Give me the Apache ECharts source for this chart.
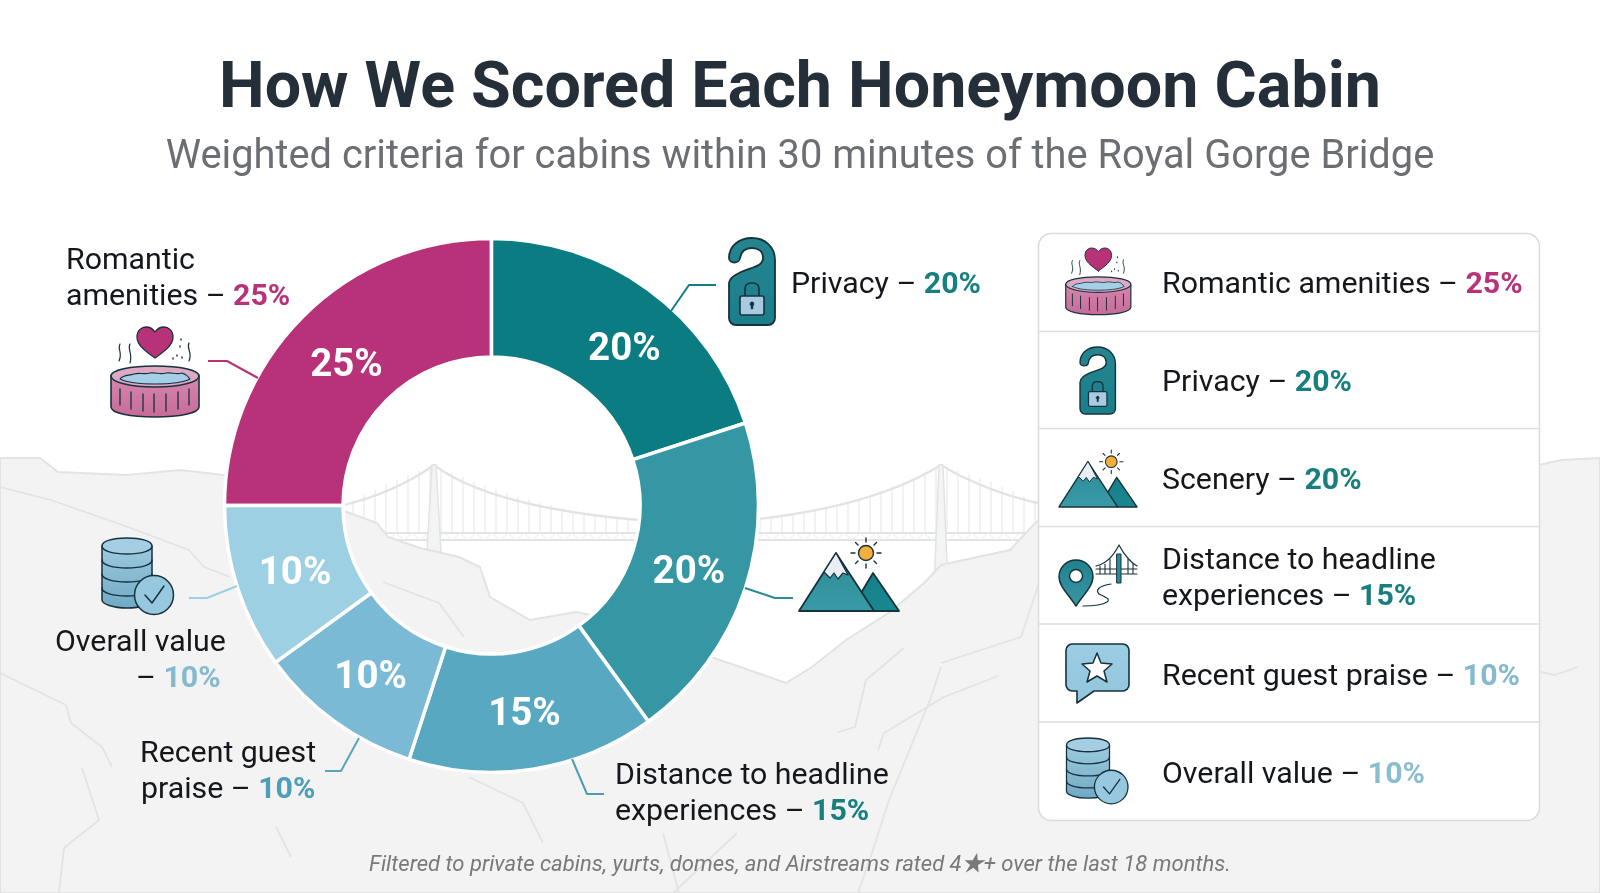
<!DOCTYPE html>
<html>
<head>
<meta charset="utf-8">
<title>How We Scored Each Honeymoon Cabin</title>
<script src="https://cdn.jsdelivr.net/npm/echarts@6/dist/echarts.min.js"></script>
<style>
html, body { margin: 0; padding: 0; background: #fff; }
#result { width: 1600px; height: 893px; }
</style>
</head>
<body>
<div id="result"></div>
<script>
var categories = ['Romantic amenities', 'Privacy', 'Scenery', 'Distance to headline experiences', 'Recent guest praise', 'Overall value'];
var weights = [25, 20, 20, 15, 10, 10];
var titleText = 'How We Scored Each Honeymoon Cabin';
var subtitleText = 'Weighted criteria for cabins within 30 minutes of the Royal Gorge Bridge';
var noteText = 'Filtered to private cabins, yurts, domes, and Airstreams rated 4★+ over the last 18 months.';

var sliceColors = ['#B83279', '#0B7C81', '#3597A3', '#59A8C1', '#7ABAD5', '#9DD0E3'];
var panelPctColors = ['#B83279', '#17807F', '#17807F', '#17807F', '#84B9CF', '#8ABDD2'];
var calloutPctColors = ['#B83279', '#17807F', '#17807F', '#17807F', '#4F9EB9', '#84B9CF'];
// nudges for the in-ring percent labels
var labelNudge = [[4, 10], [9, 15], [-3, 3], [0, 2], [3, 2], [4, 4]];
var INK = '#14181c';
var OUT = '#16323c';
var BG_LINE = '#e2e3e4';
var TEXT_SIZE = 30.3;

var myChart = echarts.init(document.getElementById('result'));

function pct(i) { return weights[i] + '%'; }

function richText(x, y, before, i) {
	return {
		type: 'text', x: x, y: y, z: 10, silent: true,
		style: {
			text: '{a|' + before + '}{b|' + pct(i) + '}',
			verticalAlign: 'middle',
			rich: {
				a: { fontFamily: 'Roboto', fontSize: TEXT_SIZE, fill: INK, color: INK },
				b: { fontFamily: 'Roboto', fontSize: TEXT_SIZE, fontWeight: 'bold', fill: calloutPctColors[i], color: calloutPctColors[i] }
			}
		}
	};
}

function plainText(x, y, str) {
	return {
		type: 'text', x: x, y: y, z: 10, silent: true,
		style: { text: str, verticalAlign: 'middle', fontFamily: 'Roboto', fontSize: TEXT_SIZE, fill: INK }
	};
}

// graphic has no plain 'path' type, so each svg path gets its own registered shape
var shapeNames = {};
var shapeCount = 0;
function pathType(d) {
	if (!shapeNames[d]) {
		shapeNames[d] = 'iconPath' + (shapeCount++);
		echarts.graphic.registerShape(shapeNames[d], echarts.graphic.extendPath(d, {}));
	}
	return shapeNames[d];
}

function pth(d, fill, stroke, lw) {
	return { type: pathType(d), z: 10, silent: true, style: { fill: fill || 'none', stroke: stroke || 'none', lineWidth: lw === undefined ? 1.6 : lw, lineCap: 'round', lineJoin: 'round' } };
}

function circ(cx, cy, r, fill, lw) {
	return { type: 'circle', z: 10, silent: true, shape: { cx: cx, cy: cy, r: r }, style: { fill: fill, stroke: OUT, lineWidth: lw } };
}

function vgrad(a, b) {
	return { type: 'linear', x: 0, y: 0, x2: 0, y2: 1, colorStops: [{ offset: 0, color: a }, { offset: 1, color: b }] };
}

function icon(x, y, s, children) {
	return { type: 'group', x: x, y: y, scaleX: s, scaleY: s, children: children };
}

function tubParts() {
	return [
		pth('M1 49 L1 80 C1 86 20 90 45 90 C70 90 89 86 89 80 L89 49 Z', vgrad('#D688AE', '#C66A98'), OUT),
		pth('M1 49 C1 43 20 39 45 39 C70 39 89 43 89 49 C89 55 70 60 45 60 C20 60 1 55 1 49 Z', '#DDA9C5', OUT),
		pth('M10 52 C14 47 19 49 24 47 C30 45 34 48 40 46 C46 45 50 48 56 46 C62 45 66 48 72 46 C75 47 78 49 80 52 C72 56 58 57 45 57 C32 57 18 56 10 52 Z', '#A5CFE6', OUT, 1.1),
		pth('M10 62 L10 78 M21 65 L21 82 M33 67 L33 84 M44 67 L44 85 M56 67 L56 84 M68 65 L68 82 M79 62 L79 78', 'none', OUT, 1.3),
		pth('M45 31 C35 24 27 18 27 10 C27 3 32 0 36 0 C40 0 43 2 45 5 C47 2 50 0 54 0 C58 0 63 3 63 10 C63 18 55 24 45 31 Z', '#B83279', OUT, 1.3),
		pth('M10 17 C7 22 13 25 9 34 M20 17 C17 22 23 26 20 36', 'none', OUT, 1.2),
		pth('M79 16 C76 22 83 25 79 34', 'none', OUT, 1.2),
		pth('M71 12 L71 13 M70 19 L70 20 M67 28 L67 29 M63 31 L63 32 M72 30 L72 31', 'none', OUT, 1.4)
	];
}

function hangerParts() {
	return [
		pth('M0 80 L0 46 C0 40 6 37 12 34 C24 29 34 28 34 20 C34 13 29 10 23 10 C16 10 12 14 11 20 C10.5 26 0 26 0 20 C0 8 10 0 23 0 C36 0 46 9 46 22 L46 80 C46 84 43 87 39 87 L7 87 C3 87 0 84 0 80 Z', vgrad('#24858F', '#1A7F8B'), OUT, 1.8),
		pth('M16 58 L16 51 C16 47 19 45 23 45 C27 45 30 47 30 51 L30 58', 'none', OUT, 1.6),
		pth('M11 60 C11 59 12 58 13 58 L33 58 C34 58 35 59 35 60 L35 75 C35 76 34 77 33 77 L13 77 C12 77 11 76 11 75 Z', '#A9CBE2', OUT, 1.6),
		pth('M21 66 C21 63 25 63 25 66 C25 67 24.4 67.6 24 68 L24 71 L22 71 L22 68 C21.6 67.6 21 67 21 66 Z', OUT, OUT, 0.4)
	];
}

function mountainParts() {
	return [
		pth('M62 55 L74 35 L100 73 L75 73 Z', vgrad('#15808A', '#1A8790'), OUT, 1.8),
		pth('M0 73 L37 15 L75 73 Z', vgrad('#2B8C98', '#3A9AA6'), OUT, 1.8),
		pth('M37 15 L25 34 L31 40 L35 35 L39 41 L44 35 L49 37 Z', '#E8EEF3', OUT, 1.2),
		circ(67, 15, 7.5, '#F3AE3E', 1.4),
		pth('M67 0 L67 4 M67 26 L67 30 M52 15 L56 15 M78 15 L82 15 M56.5 4.5 L59 7 M77.5 4.5 L75 7 M56.5 25.5 L59 23 M77.5 25.5 L75 23', 'none', OUT, 1.4)
	];
}

function pinParts() {
	return [
		pth('M17 62 C9 50 0 42 0 33 C0 23 8 16 17 16 C26 16 34 23 34 33 C34 42 25 50 17 62 Z', vgrad('#1F818D', '#3A97A4'), OUT, 1.5),
		circ(17, 32, 6.5, '#fff', 1.4),
		pth('M37 22 C46 20 54 13 60 1 C66 13 74 20 78 22', 'none', OUT, 1.2),
		pth('M37 30 L78 30 M37 25 L78 25 M41 22 L41 30 M46 20 L46 30 M51 15 L51 30 M69 15 L69 30 M74 20 L74 30', 'none', OUT, 1.1),
		pth('M58 10 L62 10 L62 39 L58 39 Z', '#2A8C98', OUT, 1),
		pth('M52 40 C40 42 36 46 40 50 C46 53 52 55 48 58 C42 62 32 62 24 62', 'none', OUT, 1.2)
	];
}

function bubbleParts() {
	return [
		pth('M6 0 L57 0 C60 0 63 3 63 6 L63 41 C63 44 60 47 57 47 L28 47 L11 59 L11 47 L6 47 C3 47 0 44 0 41 L0 6 C0 3 3 0 6 0 Z', vgrad('#9CCDE3', '#92C5DD'), OUT, 1.6),
		pth('M31 9 L35 19 L46 20 L38 27 L41 38 L31 32 L21 38 L24 27 L16 20 L27 19 Z', '#fff', OUT, 1.5)
	];
}

function dbParts() {
	return [
		pth('M0 8 L0 62 C0 66 11 70 25 70 C39 70 50 66 50 62 L50 8 Z', vgrad('#9ECBE0', '#6FA9C3'), OUT, 1.5),
		pth('M0 8 C0 3 11 0 25 0 C39 0 50 3 50 8 C50 13 39 16 25 16 C11 16 0 13 0 8 Z', '#A3CEE3', OUT, 1.5),
		pth('M0 22 C0 27 11 30 25 30 C39 30 50 27 50 22 M0 36 C0 41 11 44 25 44 C39 44 50 41 50 36 M0 50 C0 55 11 58 25 58 C39 58 50 55 50 50', 'none', OUT, 1.5),
		circ(52, 57, 19.5, '#96C9DF', 1.5),
		pth('M43 57 L50 65 L62 48', 'none', OUT, 1.5)
	];
}

function line(points, color, lw) {
	return { type: 'polyline', z: 10, silent: true, shape: { points: points }, style: { fill: 'none', stroke: color, lineWidth: lw || 2, lineJoin: 'round' } };
}

function bgLine(points, lw) {
	return { type: 'polyline', silent: true, z: 1, shape: { points: points }, style: { fill: 'none', stroke: BG_LINE, lineWidth: lw || 1.8, lineJoin: 'round' } };
}

// backdrop: bridge sits behind the terrain
function backdrop() {
	var els = [];
	var cableL = 'M340 506 Q395 493 434 465 Q500 515 700 524 Q860 515 941 465 Q985 492 1050 506';
	var i, x, y, t;
	for (i = 0; i < 66; i++) {
		x = 342 + i * 11;
		if (x < 434) { t = (434 - x) / 94; y = 465 + t * 42 - t * (1 - t) * 8; }
		else if (x < 700) { t = (700 - x) / 266; y = 524 - t * t * 59; }
		else if (x < 941) { t = (x - 700) / 241; y = 524 - t * t * 59; }
		else { t = (x - 941) / 109; y = 465 + t * 42 - t * (1 - t) * 8; }
		els.push({ type: 'line', silent: true, shape: { x1: x, y1: y, x2: x, y2: 534 }, style: { stroke: '#e9eaeb', lineWidth: 1.2 } });
	}
	els.push({ type: pathType(cableL), silent: true, style: { fill: 'none', stroke: BG_LINE, lineWidth: 2.2 } });
	['M340 533 L1050 533', 'M340 540 L1050 540'].forEach(function (d) {
		els.push({ type: pathType(d), silent: true, style: { fill: 'none', stroke: BG_LINE, lineWidth: 2 } });
	});
	var zig = 'M340 540';
	for (i = 1; i < 90; i++) { zig += ' L' + (340 + i * 8) + ' ' + (i % 2 ? 533 : 540); }
	els.push({ type: pathType(zig), silent: true, style: { fill: 'none', stroke: '#eceded', lineWidth: 1 } });
	[[434, 465, 552], [941, 465, 590]].forEach(function (tw) {
		els.push({ type: 'polygon', silent: true, shape: { points: [[tw[0] - 2, tw[1]], [tw[0] + 2, tw[1]], [tw[0] + 7, tw[2]], [tw[0] - 7, tw[2]]] }, style: { fill: '#f3f4f4', stroke: BG_LINE, lineWidth: 1.5 } });
	});
	els.push({
		type: 'polygon', silent: true, z: 1,
		shape: { points: [[0, 458], [40, 458], [58, 472], [127, 475], [180, 470], [223, 475], [300, 495], [347, 512], [377, 523], [388, 537], [420, 548], [459, 557], [480, 567], [490, 597], [530, 620], [576, 612], [640, 625], [711, 657], [749, 670], [786, 683], [812, 667], [846, 640], [890, 612], [924, 583], [941, 565], [1010, 550], [1036, 522], [1100, 490], [1539, 465], [1561, 460], [1600, 458], [1600, 893], [0, 893]] },
		style: { fill: '#f3f3f3', stroke: BG_LINE, lineWidth: 2 }
	});
	[
		[[0, 487], [51, 500], [128, 527], [189, 550], [204, 567], [230, 577]],
		[[0, 673], [66, 705], [71, 723], [102, 747], [112, 767]],
		[[82, 768], [99, 820], [64, 848], [59, 893]],
		[[276, 827], [291, 857]],
		[[383, 582], [439, 603], [464, 637]],
		[[469, 777], [523, 803], [543, 843]],
		[[663, 833], [679, 893]],
		[[737, 833], [673, 893]],
		[[904, 648], [866, 680], [855, 727], [838, 732]],
		[[998, 676], [944, 697], [884, 733], [878, 750]],
		[[941, 667], [930, 700], [889, 800], [872, 853], [858, 893]],
		[[1039, 583], [1021, 637], [941, 663]],
		[[1541, 672], [1555, 675], [1578, 667]]
	].forEach(function (pts) { els.push(bgLine(pts)); });
	return els;
}

// panel with six rows
function panel() {
	var els = [{
		type: 'rect', z: 5, silent: true,
		shape: { x: 1038.5, y: 233.5, width: 501, height: 587, r: 13 },
		style: { fill: '#fff', stroke: '#d9dbde', lineWidth: 1.5 }
	}];
	[331.5, 428.5, 526.5, 624, 722].forEach(function (y) {
		els.push({ type: 'line', z: 6, silent: true, shape: { x1: 1039, y1: y, x2: 1539, y2: y }, style: { stroke: '#dcdee1', lineWidth: 1.5 } });
	});
	[[0, 285], [1, 383], [2, 481], [4, 677], [5, 775]].forEach(function (r) {
		var t = richText(1162, r[1], categories[r[0]] + ' – ', r[0]);
		t.style.rich.b.fill = panelPctColors[r[0]];
		t.style.rich.b.color = panelPctColors[r[0]];
		els.push(t);
	});
	els.push(plainText(1162, 561, 'Distance to headline'));
	els.push(richText(1162, 597, 'experiences – ', 3));
	els.push(icon(1065, 248, 0.74, tubParts()));
	els.push(icon(1080, 347, 0.77, hangerParts()));
	els.push(icon(1059, 450, 0.78, mountainParts()));
	els.push(icon(1059, 544, 1, pinParts()));
	els.push(icon(1066, 644, 1, bubbleParts()));
	els.push(icon(1066.5, 738, 0.86, dbParts()));
	return els;
}

function callouts() {
	return [
		plainText(66, 261, 'Romantic'),
		richText(66, 297, 'amenities – ', 0),
		icon(110, 327, 1, tubParts()),
		line([[208, 361], [227, 361], [258, 378]], '#B83279'),
		icon(729, 238, 1, hangerParts()),
		line([[671, 311], [689, 285], [716, 285]], '#127E84'),
		richText(791, 285, 'Privacy – ', 1),
		icon(799, 538, 1, mountainParts()),
		line([[745, 588], [775, 598], [793, 598]], '#2A8C96'),
		icon(102, 538, 1, dbParts()),
		line([[189, 598], [207, 598], [237, 586]], '#9DD0E3'),
		plainText(55, 643, 'Overall value'),
		richText(136, 679, '– ', 5),
		plainText(140, 754, 'Recent guest'),
		richText(141, 790, 'praise – ', 4),
		line([[359, 738], [341, 771], [325, 771]], '#59A5BF'),
		plainText(615, 776, 'Distance to headline'),
		richText(615, 812, 'experiences – ', 3),
		line([[572, 759], [587, 794], [604, 794]], '#4D9CB4')
	];
}

var option = {
	backgroundColor: '#fff',
	animation: false,
	title: [{
		text: titleText, left: 'center', top: 53,
		textStyle: { fontFamily: 'Roboto', fontSize: 64.6, fontWeight: 'bold', color: '#252f3a' }
	}, {
		text: subtitleText, left: 'center', top: 133,
		textStyle: { fontFamily: 'Roboto', fontSize: 39.8, fontWeight: 'normal', color: '#6b6e72' }
	}, {
		text: noteText, left: 'center', top: 849,
		textStyle: { fontFamily: 'Roboto, "Noto Sans CJK SC"', fontSize: 22.05, fontWeight: 'normal', fontStyle: 'italic', color: '#77797c' }
	}],
	graphic: { elements: backdrop().concat(panel(), callouts()) },
	series: [{
		type: 'pie',
		center: [491.5, 505.5],
		radius: [148.5, 267],
		startAngle: 180,
		clockwise: true,
		silent: true,
		z: 4,
		itemStyle: { borderColor: '#fff', borderWidth: 3.5 },
		label: {
			show: true, position: 'inside', formatter: '{c}%',
			fontFamily: 'Roboto', fontSize: 38.5, fontWeight: 'bold', color: '#fff'
		},
		labelLine: { show: false },
		labelLayout: function (params) {
			var n = labelNudge[params.dataIndex];
			return { dx: n[0], dy: n[1] };
		},
		data: categories.map(function (c, i) {
			return { name: c, value: weights[i], itemStyle: { color: sliceColors[i] } };
		})
	}]
};

myChart.setOption(option);
</script>
</body>
</html>
